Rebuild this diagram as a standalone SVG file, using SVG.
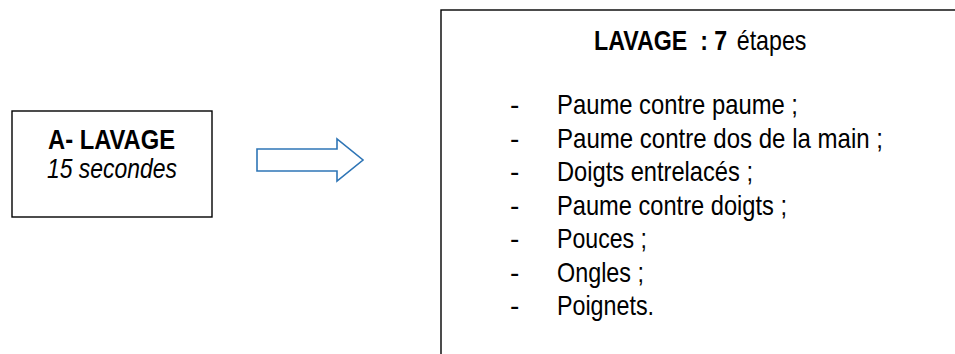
<svg xmlns="http://www.w3.org/2000/svg" width="955" height="354" viewBox="0 0 955 354">
<style>
.box{fill:#fff;stroke:#000;stroke-width:1.4}
.t{font-family:"Liberation Sans Narrow","Arial Narrow","Liberation Sans",Arial,sans-serif;font-size:27px;fill:#000}
.l{font-size:28px}
.b{font-weight:bold}
.i{font-style:italic}
.arrow{fill:#fff;stroke:#2E75B6;stroke-width:1.6}
</style>
<rect width="955" height="354" fill="#fff"/>
<g id="node-a">
<rect class="box" x="12" y="111" width="200" height="106"/>
<text class="t b" x="48" y="149" textLength="127" lengthAdjust="spacingAndGlyphs">A- LAVAGE</text>
<text class="t i" x="47" y="178" textLength="130" lengthAdjust="spacingAndGlyphs">15 secondes</text>
</g>
<g id="connectors">
<path class="arrow" d="M257,149 H337 V139 L363,160 L337,181 V171 H257 Z"/>
</g>
<g id="node-b">
<rect class="box" x="441" y="10" width="530" height="360"/>
<g transform="translate(594,50) scale(0.86,1)">
<text class="t b" x="0" y="0" xml:space="preserve">LAVAGE  : 7</text>
<text class="t" x="166" y="0">étapes</text>
</g>
<g class="t l">
<text x="510" y="114">-</text><text x="557" y="114" textLength="241" lengthAdjust="spacingAndGlyphs">Paume contre paume ;</text>
<text x="510" y="147.5">-</text><text x="557" y="147.5" textLength="326" lengthAdjust="spacingAndGlyphs">Paume contre dos de la main ;</text>
<text x="510" y="181">-</text><text x="557" y="181" textLength="196" lengthAdjust="spacingAndGlyphs">Doigts entrelacés ;</text>
<text x="510" y="214.5">-</text><text x="557" y="214.5" textLength="230" lengthAdjust="spacingAndGlyphs">Paume contre doigts ;</text>
<text x="510" y="248">-</text><text x="557" y="248" textLength="90" lengthAdjust="spacingAndGlyphs">Pouces ;</text>
<text x="510" y="281.5">-</text><text x="557" y="281.5" textLength="87" lengthAdjust="spacingAndGlyphs">Ongles ;</text>
<text x="510" y="315">-</text><text x="557" y="315" textLength="97" lengthAdjust="spacingAndGlyphs">Poignets.</text>
</g>
</g>
</svg>
